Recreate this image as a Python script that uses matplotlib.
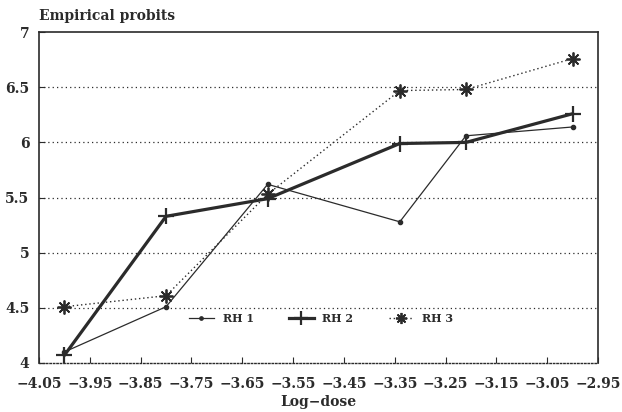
import matplotlib
matplotlib.use("Agg")
import matplotlib.pyplot as plt
import numpy as np

# Log-dose levels and empirical probits for three series
log_dose = [-4.00, -3.80, -3.60, -3.34, -3.21, -3.00]
rh1 = [4.10, 4.51, 5.62, 5.28, 6.06, 6.14]
rh2 = [4.07, 5.33, 5.49, 5.99, 6.00, 6.26]
rh3 = [4.51, 4.61, 5.53, 6.47, 6.48, 6.76]
series_names = ["RH 1", "RH 2", "RH 3"]

x_ticks = [-4.05, -3.95, -3.85, -3.75, -3.65, -3.55, -3.45, -3.35, -3.25, -3.15, -3.05, -2.95]
y_ticks = [4, 4.5, 5, 5.5, 6, 6.5, 7]

ink = "#2b2b2b"
font = {"family": "DejaVu Serif", "weight": "bold"}

fig = plt.figure(figsize=(6.22, 4.12), dpi=100)
ax = fig.add_axes([0.0627, 0.119, 0.8987, 0.803])

ax.plot(log_dose, rh1, color=ink, lw=0.9, marker="o", ms=3, label=series_names[0])
ax.plot(log_dose, rh2, color=ink, lw=2.3, marker="+", ms=12, mew=1.6, label=series_names[1])
ax.plot(log_dose, rh3, color=ink, lw=1.0, ls=(0, (1, 2.0)), marker=(8, 2, 0), ms=10,
        mew=1.3, label=series_names[2])

ax.set_xlim(-4.05, -2.95)
ax.set_ylim(4, 7)
ax.set_xticks(x_ticks)
ax.set_xticklabels([f"{v:.2f}".replace("-", "\u2212") for v in x_ticks], fontdict=font, fontsize=10)
ax.set_yticks(y_ticks)
ax.set_yticklabels([f"{v:g}" for v in y_ticks], fontdict=font, fontsize=10)
ax.tick_params(axis="both", direction="in", length=4, width=0.8, colors=ink)
ax.tick_params(axis="x", pad=10)
ax.tick_params(axis="y", pad=7)

for v in y_ticks[1:-1]:
    ax.axhline(v, color=ink, lw=0.9, ls=(0, (1, 2.5)), zorder=0)

for side in ["top", "left", "right"]:
    ax.spines[side].set_color(ink)
    ax.spines[side].set_linewidth(1.2)
ax.spines["bottom"].set_color(ink)
ax.spines["bottom"].set_linewidth(1.0)
ax.spines["bottom"].set_linestyle((0, (1, 1.5)))

fig.text(0.0627, 0.945, "Empirical probits", fontdict=font, fontsize=10, color=ink, ha="left", va="bottom")
ax.set_xlabel("Log\u2212dose", fontdict=font, fontsize=10, color=ink, labelpad=3)

leg = ax.legend(loc="center", bbox_to_anchor=(0.505, 0.135), ncol=3, frameon=False,
                prop={"family": "DejaVu Serif", "weight": "bold", "size": 8},
                handlelength=2.2, columnspacing=3.2, markerscale=0.8)
for t in leg.get_texts():
    t.set_color(ink)

fig.savefig("out.png", dpi=100, facecolor="white")
